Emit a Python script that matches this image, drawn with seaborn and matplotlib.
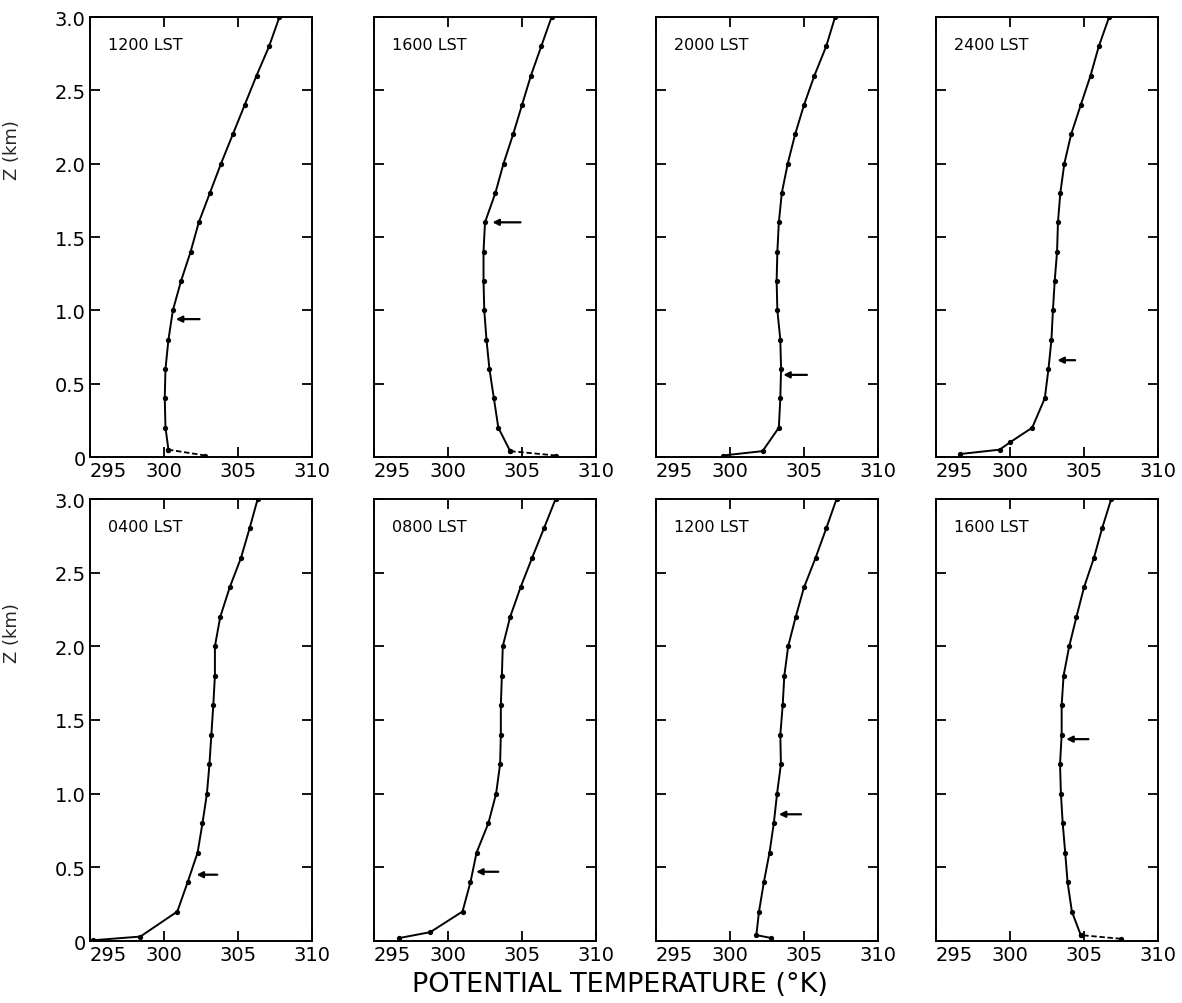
import numpy as np
import pandas as pd
import matplotlib
matplotlib.use("Agg")
import matplotlib.pyplot as plt
import seaborn as sns

# ---------------- data ----------------
labels = ["1200 LST", "1600 LST", "2000 LST", "2400 LST",
          "0400 LST", "0800 LST", "1200 LST", "1600 LST"]

z1 = [0.01, 0.05, 0.2, 0.4, 0.6, 0.8, 1.0, 1.2, 1.4, 1.6, 1.8, 2.0, 2.2, 2.4, 2.6, 2.8, 3.0]
t1 = [302.8, 300.3, 300.1, 300.05, 300.1, 300.3, 300.6, 301.15, 301.8, 302.35, 303.1, 303.85, 304.65, 305.45, 306.25, 307.1, 307.8]

z2 = [0.01, 0.04, 0.2, 0.4, 0.6, 0.8, 1.0, 1.2, 1.4, 1.6, 1.8, 2.0, 2.2, 2.4, 2.6, 2.8, 3.0]
t2 = [307.3, 304.2, 303.4, 303.1, 302.8, 302.6, 302.45, 302.4, 302.4, 302.5, 303.2, 303.75, 304.4, 305.0, 305.6, 306.3, 307.0]

z3 = [0.01, 0.04, 0.2, 0.4, 0.6, 0.8, 1.0, 1.2, 1.4, 1.6, 1.8, 2.0, 2.2, 2.4, 2.6, 2.8, 3.0]
t3 = [299.5, 302.2, 303.3, 303.4, 303.45, 303.4, 303.2, 303.15, 303.2, 303.3, 303.5, 303.9, 304.4, 305.0, 305.7, 306.5, 307.1]

z4 = [0.02, 0.05, 0.1, 0.2, 0.4, 0.6, 0.8, 1.0, 1.2, 1.4, 1.6, 1.8, 2.0, 2.2, 2.4, 2.6, 2.8, 3.0]
t4 = [296.6, 299.3, 300.0, 301.5, 302.35, 302.6, 302.8, 302.9, 303.02, 303.18, 303.24, 303.4, 303.67, 304.13, 304.78, 305.44, 306.0, 306.7]

z5 = [0.005, 0.03, 0.2, 0.4, 0.6, 0.8, 1.0, 1.2, 1.4, 1.6, 1.8, 2.0, 2.2, 2.4, 2.6, 2.8, 3.0]
t5 = [295.2, 298.4, 300.9, 301.6, 302.27, 302.6, 302.9, 303.07, 303.2, 303.33, 303.44, 303.44, 303.8, 304.44, 305.2, 305.78, 306.33]

z6 = [0.02, 0.06, 0.2, 0.4, 0.6, 0.8, 1.0, 1.2, 1.4, 1.6, 1.8, 2.0, 2.2, 2.4, 2.6, 2.8, 3.0]
t6 = [296.7, 298.8, 300.98, 301.52, 301.93, 302.73, 303.25, 303.52, 303.57, 303.57, 303.64, 303.7, 304.2, 304.9, 305.68, 306.48, 307.27]

z7 = [0.02, 0.04, 0.2, 0.4, 0.6, 0.8, 1.0, 1.2, 1.4, 1.6, 1.8, 2.0, 2.2, 2.4, 2.6, 2.8, 3.0]
t7 = [302.8, 301.78, 301.96, 302.29, 302.67, 302.96, 303.18, 303.44, 303.4, 303.56, 303.67, 303.93, 304.44, 305.0, 305.78, 306.5, 307.2]

z8 = [0.015, 0.04, 0.2, 0.4, 0.6, 0.8, 1.0, 1.2, 1.4, 1.6, 1.8, 2.0, 2.2, 2.4, 2.6, 2.8, 3.0]
t8 = [307.5, 304.78, 304.18, 303.89, 303.73, 303.56, 303.44, 303.38, 303.49, 303.49, 303.62, 304.0, 304.49, 305.0, 305.67, 306.22, 306.84]

heights = [z1, z2, z3, z4, z5, z6, z7, z8]
thetas = [t1, t2, t3, t4, t5, t6, t7, t8]

# mixed-layer-top arrows
arrow_z = [0.94, 1.60, 0.56, 0.66, 0.45, 0.47, 0.86, 1.37]
arrow_head = [300.8, 303.0, 303.6, 303.2, 302.2, 301.9, 303.3, 303.8]
arrow_tail = [302.4, 304.9, 305.2, 304.4, 303.6, 303.4, 304.8, 305.3]

dashed_surface = [True, True, False, False, False, False, False, True]

x_ticks = [295, 300, 305, 310]
y_ticks = [0, 0.5, 1.0, 1.5, 2.0, 2.5, 3.0]
y_ticklabels = ["0", "0.5", "1.0", "1.5", "2.0", "2.5", "3.0"]

# ---------------- style ----------------
sns.set_theme(style="ticks")
plt.rcParams['font.family'] = ['DejaVu Sans']
plt.rcParams['axes.linewidth'] = 1.4

fig = plt.figure(figsize=(11.82, 10.04), dpi=100)
W, H = 1182.0, 1004.0
lefts = [90, 374, 656, 936]
width = 222
rows = [(18, 458), (500, 942)]

for i in range(8):
    r, c = divmod(i, 4)
    top, bot = rows[r]
    ax = fig.add_axes([lefts[c] / W, 1 - bot / H, width / W, (bot - top) / H])
    df = pd.DataFrame({"theta": thetas[i], "z": heights[i]})
    main = df.iloc[1:] if dashed_surface[i] else df
    sns.lineplot(data=main, x="theta", y="z", sort=False, estimator=None,
                 color="black", linewidth=1.4, marker="o", markersize=3.8,
                 markeredgewidth=0, ax=ax)
    if dashed_surface[i]:
        sns.lineplot(data=df.iloc[:2], x="theta", y="z", sort=False, estimator=None,
                     color="black", linewidth=1.3, linestyle=(0, (3, 1.5)),
                     marker="o", markersize=3.8, markeredgewidth=0, ax=ax)
    ax.annotate("", xy=(arrow_head[i], arrow_z[i]), xytext=(arrow_tail[i], arrow_z[i]),
                arrowprops=dict(arrowstyle="-|>", color="black", lw=1.6,
                                mutation_scale=9, shrinkA=0, shrinkB=0))
    ax.set_xlim(295, 310)
    ax.set_ylim(0, 3.0)
    ax.set_xticks(x_ticks)
    ax.set_yticks(y_ticks)
    ax.set_xticklabels([str(v) for v in x_ticks], fontsize=14)
    # first label starts at its tick, clear of the "0" of the z axis
    ax.get_xticklabels()[0].set_horizontalalignment("left")
    if c == 0:
        ax.set_yticklabels(y_ticklabels, fontsize=14)
        ax.set_ylabel("Z (km)", fontsize=13)
        ax.yaxis.set_label_coords(-0.31, 0.70)
    else:
        ax.set_yticklabels([])
        ax.set_ylabel("")
    ax.set_xlabel("")
    ax.tick_params(direction="in", length=7, width=1.3, top=True, right=True,
                   colors="black", labelcolor="black", pad=3)
    for s in ax.spines.values():
        s.set_color("black")
        s.set_linewidth(1.4)
    ax.text(0.08, 0.955, labels[i], transform=ax.transAxes, fontsize=11.5,
            ha="left", va="top", color="black")
    ax.set_facecolor("white")

fig.text(620 / W, 1 - 985 / H, "POTENTIAL TEMPERATURE (°K)", ha="center", va="center",
         fontsize=19.5, color="black")

fig.savefig("out.png", dpi=100, facecolor="white")
